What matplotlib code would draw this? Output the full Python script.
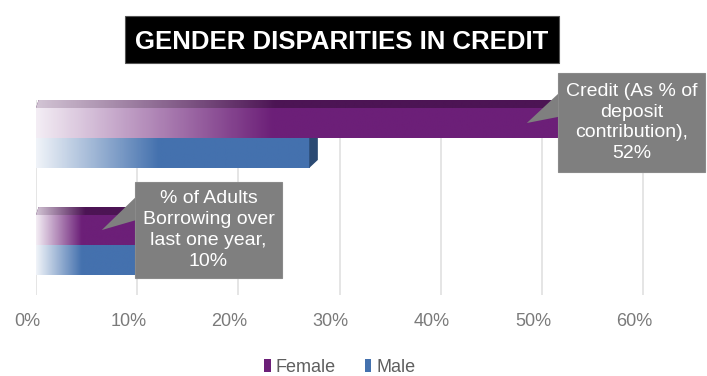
import numpy as np
import matplotlib
matplotlib.use("Agg")
import matplotlib.pyplot as plt
from matplotlib.colors import LinearSegmentedColormap, to_rgb
from matplotlib.patches import Polygon, Rectangle, Patch
from matplotlib.transforms import ScaledTranslation

plt.rcParams['font.family'] = ['Liberation Sans', 'DejaVu Sans']

# ---- data ----
categories = ["Credit (As % of\ndeposit\ncontribution)", "% of Adults\nBorrowing over\nlast one year"]
female = [52, 10]
male = [27, 10]
series_names = ["Female", "Male"]
ticks = [0, 10, 20, 30, 40, 50, 60]
tick_labels = [f"{t}%" for t in ticks]
title = "GENDER DISPARITIES IN CREDIT"

PURPLE = "#6c1f78"
PURPLE_TOP = "#4c1454"
PURPLE_END = "#3e0f45"
BLUE = "#4471ae"
BLUE_TOP = "#2f5482"
BLUE_END = "#2b4a73"
GREY = "#7f7f7f"

W, H = 707, 376
fig = plt.figure(figsize=(W / 100, H / 100), dpi=100)
ax = fig.add_axes([36 / W, 1 - 295 / H, (660 - 36) / W, 195 / H])
xmax = (660 - 36) / 10.12
ax.set_xlim(0, xmax)
ax.set_ylim(1.467, -0.355)

h = 0.28
dy = 0.075      # depth of top face (data units)
dx = 0.85       # depth of end face (percent units)


def mix(c, w):
    r = np.array(to_rgb(c))
    return tuple(r * (1 - w) + np.ones(3) * w)


def grad(ax, patch, color, x0, x1, y0, y1, frac=0.45, light=0.92, z=3):
    cmap = LinearSegmentedColormap.from_list("g", [mix(color, light), color])
    xs = np.linspace(0, 1, 300)
    t = np.clip(xs / frac, 0, 1)
    im = ax.imshow(t[None, :], extent=(x0, x1, y1, y0), aspect='auto', cmap=cmap,
                   vmin=0, vmax=1, zorder=z, interpolation='bilinear')
    im.set_clip_path(patch)


def bar3d(ax, yc, v, front, top, end, z):
    y_top = yc - h / 2
    y_bot = yc + h / 2
    rect = ax.barh([yc], [v], height=h, color=front, zorder=z)[0]
    grad(ax, rect, front, 0, v, y_top, y_bot, z=z + 0.1)
    topf = Polygon([(0, y_top), (dx * 0.3, y_top - dy), (v + dx, y_top - dy), (v, y_top)],
                   closed=True, fc=top, ec='none', zorder=z)
    ax.add_patch(topf)
    grad(ax, topf, top, 0, v + dx, y_top - dy, y_top, light=0.75, z=z + 0.1)
    endf = Polygon([(v, y_top), (v + dx, y_top - dy), (v + dx, y_bot - dy), (v, y_bot)],
                   closed=True, fc=end, ec='none', zorder=z + 0.2)
    ax.add_patch(endf)


for i in range(len(categories)):
    bar3d(ax, i + h / 2, male[i], BLUE, BLUE_TOP, BLUE_END, 2)
    bar3d(ax, i - h / 2, female[i], PURPLE, PURPLE_TOP, PURPLE_END, 4)

ax.set_xticks(ticks)
ax.set_xticklabels(tick_labels, fontsize=13, color="#7a7a7a")
ax.tick_params(axis='x', length=0, pad=13)
ax.set_yticks([])
for lab in ax.get_xticklabels():
    lab.set_transform(lab.get_transform() + ScaledTranslation(-9 / 100, 0, fig.dpi_scale_trans))
for s in ax.spines.values():
    s.set_visible(False)
ax.xaxis.grid(True, color="#e0e0e0", lw=1.2)
ax.set_axisbelow(True)

# ---- callouts ----
def fig_xy(px, py):
    return (px / W, 1 - py / H)

callouts = [
    # (category index, value, box (x0,y0,x1,y1) px, wedge tail px, tip offset)
    (0, female[0], (558, 73, 705, 172), (570, 101), -3.5),
    (1, female[1], (135, 182, 282, 278), (150, 202), -3.5),
]
for idx, val, box, tail, off in callouts:
    tip = (val + off, idx - h / 2)
    ax.annotate('', xy=tip, xycoords='data', xytext=fig_xy(*tail), textcoords='figure fraction',
                arrowprops=dict(arrowstyle='wedge,tail_width=2.0', mutation_scale=10,
                                fc=GREY, ec='none', shrinkA=0, shrinkB=0),
                zorder=8, annotation_clip=False)
    x0, y0, x1, y1 = box
    r = Rectangle(fig_xy(x0, y1), (x1 - x0) / W, (y1 - y0) / H, transform=fig.transFigure,
                  fc=GREY, ec="#8a8a8a", lw=0.8, zorder=9)
    fig.patches.append(r)
    txt = f"{categories[idx]},\n{val}%"
    fig.text((x0 + x1) / 2 / W, 1 - (y0 + y1) / 2 / H, txt, ha='center', va='center',
             fontsize=14, color='white', linespacing=1.3, zorder=10)

# ---- title ----
tb = (125, 16, 559, 63)
fig.patches.append(Rectangle(fig_xy(tb[0], tb[3]), (tb[2] - tb[0]) / W, (tb[3] - tb[1]) / H,
                             transform=fig.transFigure, fc='black', ec='#555', lw=0.8))
fig.text((tb[0] + tb[2]) / 2 / W, 1 - (tb[1] + tb[3]) / 2 / H, title, ha='center', va='center_baseline',
         fontsize=18.5, fontweight='bold', color='white')

# ---- legend ----
handles = [Patch(fc=PURPLE, ec='none'), Patch(fc=BLUE, ec='none')]
leg = ax.legend(handles, series_names, loc='center', bbox_to_anchor=fig_xy(340, 367),
                bbox_transform=fig.transFigure, ncol=2, frameon=False, fontsize=13,
                handlelength=0.35, handleheight=0.7, handletextpad=0.3, columnspacing=1.6,
                labelcolor="#5f5f5f")

fig.savefig("out.png", dpi=100)
